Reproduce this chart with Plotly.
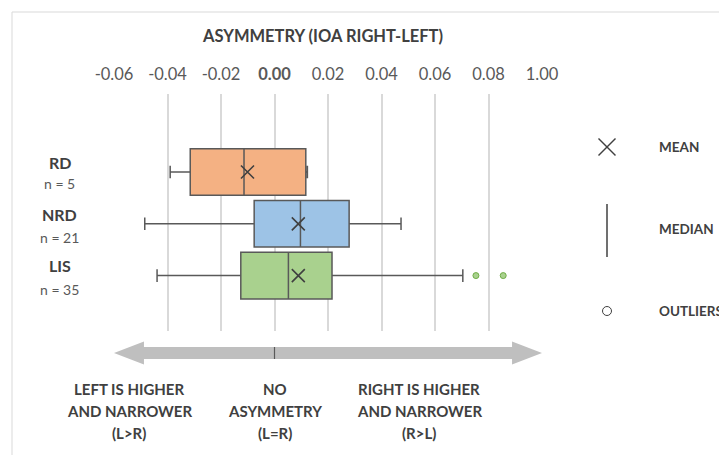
import plotly.graph_objects as go

# ---- data ----
groups = ["RD", "NRD", "LIS"]
group_n = ["n = 5", "n = 21", "n = 35"]
lower_whisker = [-0.0390, -0.0485, -0.0439]
q1_vals = [-0.0315, -0.0076, -0.0126]
median_vals = [-0.0114, 0.0097, 0.0052]
q3_vals = [0.0117, 0.0279, 0.0215]
upper_whisker = [0.0123, 0.0473, 0.0704]
mean_vals = [-0.0101, 0.0089, 0.0089]
outlier_x = [0.0753, 0.0855]
outlier_group = ["LIS", "LIS"]
fills = ["#f4b183", "#9dc3e6", "#a9d18e"]
tick_vals = [-0.06, -0.04, -0.02, 0.00, 0.02, 0.04, 0.06, 0.08, 0.10]
tick_text = ["-0.06", "-0.04", "-0.02", "<b>0.00</b>", "0.02", "0.04", "0.06", "0.08", "1.00"]

# the page body has an 8px margin; figure sized to fit the window
OFF = 8
W, H = 727 - OFF, 455 - OFF
L, R, T, B = 114 - OFF, 185, 94 - OFF, 124
PW, PH = W - L - R, H - T - B

def px(x):  # reference-screen x -> paper
    return (x - OFF - L) / PW

def py(y):  # reference-screen y -> paper
    return (H - B - (y - OFF)) / PH

FONT = "Lato"
DARK = "#404040"
EDGE = "#595959"

fig = go.Figure()
for i, g in enumerate(groups):
    fig.add_trace(go.Box(
        y=[g], q1=[q1_vals[i]], median=[median_vals[i]], q3=[q3_vals[i]],
        lowerfence=[lower_whisker[i]], upperfence=[upper_whisker[i]],
        orientation="h", fillcolor=fills[i], line=dict(color=EDGE, width=1.5),
        width=0.9, whiskerwidth=0.27, boxpoints=False, showlegend=False,
        hoverinfo="x",
    ))

fig.add_trace(go.Scatter(
    x=mean_vals, y=groups, mode="markers", showlegend=False,
    marker=dict(symbol="x-thin-open", size=13, color=DARK, line=dict(color=DARK, width=1.6)),
))
fig.add_trace(go.Scatter(
    x=outlier_x, y=outlier_group, mode="markers", showlegend=False,
    marker=dict(symbol="circle", size=6, color="#a9d18e", line=dict(color="#70ad47", width=1)),
))

fig.update_xaxes(
    range=[tick_vals[0], tick_vals[-1]], side="top", tickvals=tick_vals, ticktext=tick_text,
    showgrid=True, gridcolor="#d9d9d9", gridwidth=1.5, zeroline=False, showline=False,
    ticks="", ticklabelstandoff=10, tickfont=dict(family=FONT, size=16.5, color=EDGE),
)
fig.update_yaxes(
    type="category", categoryarray=groups, range=[3.07, -1.507],
    showticklabels=False, showgrid=False, zeroline=False, showline=False,
)

def text(x, y, t, size, color=DARK, xanchor="center"):
    return dict(x=px(x), y=py(y), xref="paper", yref="paper", text=t, showarrow=False,
                xanchor=xanchor, yanchor="middle", font=dict(family=FONT, size=size, color=color))

ann = [text(322, 36, "<b>ASYMMETRY (IOA RIGHT-LEFT)</b>", 16.5)]
label_y = [(162, 183.5), (214.5, 237.5), (265.5, 289)]
for g, n, (yg, yn) in zip(groups, group_n, label_y):
    ann.append(text(59.5, yg, f"<b>{g}</b>", 16))
    ann.append(text(59.5, yn, n, 14, EDGE))
for t, yy in [("MEAN", 147), ("MEDIAN", 229), ("OUTLIERS", 311)]:
    ann.append(text(657, yy, f"<b>{t}</b>", 13.5, xanchor="left"))
bottom = [
    (129, ["LEFT IS HIGHER", "AND NARROWER", "(L>R)"]),
    (275, ["NO", "ASYMMETRY", "(L=R)"]),
    (419, ["RIGHT IS HIGHER", "AND NARROWER", "(R>L)"]),
]
for xx, lines in bottom:
    for k, ln in enumerate(lines):
        ann.append(text(xx, 389 + 22 * k, f"<b>{ln}</b>", 15))

shapes = []
# outer chart border
shapes.append(dict(type="line", xref="paper", yref="paper", x0=px(12), x1=px(740), y0=py(12), y1=py(12),
                   line=dict(color="#d9d9d9", width=1)))
shapes.append(dict(type="line", xref="paper", yref="paper", x0=px(12), x1=px(12), y0=py(12), y1=py(470),
                   line=dict(color="#d9d9d9", width=1)))
# double-headed arrow
yc, hs, hh = 353, 6, 11.5
hl = 0.0112
x0, x1 = tick_vals[0], tick_vals[-1]
path = (f"M {x0},{py(yc)} L {x0+hl},{py(yc-hh)} L {x0+hl},{py(yc-hs)} L {x1-hl},{py(yc-hs)} "
        f"L {x1-hl},{py(yc-hh)} L {x1},{py(yc)} L {x1-hl},{py(yc+hh)} L {x1-hl},{py(yc+hs)} "
        f"L {x0+hl},{py(yc+hs)} L {x0+hl},{py(yc+hh)} Z")
shapes.append(dict(type="path", xref="x", yref="paper", path=path, fillcolor="#bfbfbf",
                   line=dict(width=0)))
shapes.append(dict(type="line", xref="x", yref="paper", x0=0, x1=0, y0=py(yc-hs), y1=py(yc+hs),
                   line=dict(color=EDGE, width=1.2)))
# legend glyphs
cx = 607
shapes.append(dict(type="line", xref="paper", yref="paper", x0=px(cx-8.5), x1=px(cx+8.5),
                   y0=py(147-8.5), y1=py(147+8.5), line=dict(color=DARK, width=1.5)))
shapes.append(dict(type="line", xref="paper", yref="paper", x0=px(cx-8.5), x1=px(cx+8.5),
                   y0=py(147+8.5), y1=py(147-8.5), line=dict(color=DARK, width=1.5)))
shapes.append(dict(type="line", xref="paper", yref="paper", x0=px(cx), x1=px(cx),
                   y0=py(204), y1=py(257), line=dict(color=DARK, width=1.5)))
shapes.append(dict(type="circle", xref="paper", yref="paper", x0=px(cx-4.5), x1=px(cx+4.5),
                   y0=py(311-4.5), y1=py(311+4.5), line=dict(color=DARK, width=1)))

fig.update_layout(
    width=W, height=H, margin=dict(l=L, r=R, t=T, b=B),
    paper_bgcolor="white", plot_bgcolor="white",
    annotations=ann, shapes=shapes, showlegend=False,
)
fig.write_html("out.html")
